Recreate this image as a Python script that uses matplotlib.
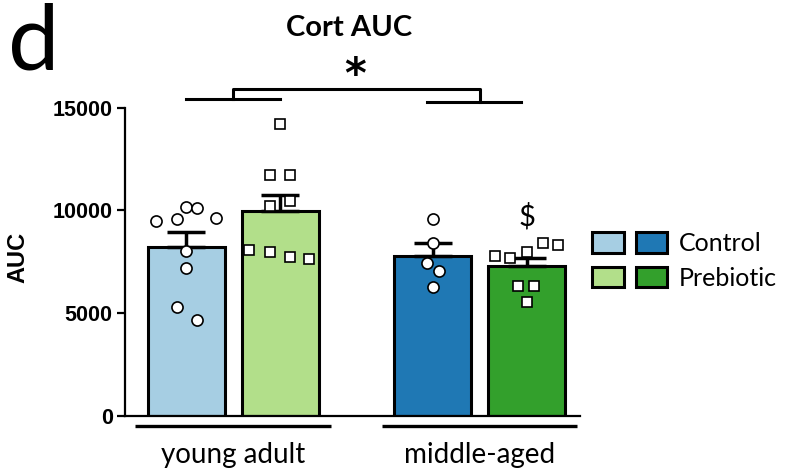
import matplotlib.pyplot as plt
import numpy as np
from matplotlib.patches import Patch
from matplotlib.legend_handler import HandlerTuple

# group / treatment names
groups = ["young adult", "middle-aged"]
treatments = ["Control", "Prebiotic"]

# bar heights (mean AUC) and SEM, order: YA-ctrl, YA-preb, MA-ctrl, MA-preb
means = [8230, 9970, 7760, 7290]
sems = [720, 800, 640, 390]

# individual animals
ya_ctrl = [9490, 9580, 10160, 10110, 9630, 8000, 7190, 5290, 4670]
ya_preb = [14220, 11730, 11730, 10220, 10470, 8050, 7950, 7730, 7630]
ma_ctrl = [9580, 8410, 7460, 7070, 6270]
ma_preb = [7790, 7680, 7970, 8410, 8330, 6300, 6300, 5520]
points = [ya_ctrl, ya_preb, ma_ctrl, ma_preb]

# horizontal spread of the dots inside each bar
spread = [
    [-0.32, -0.10, 0.0, 0.11, 0.32, 0.0, 0.0, -0.10, 0.11],
    [0.0, -0.11, 0.10, -0.11, 0.10, -0.33, -0.11, 0.10, 0.31],
    [0.0, 0.0, -0.06, 0.07, 0.0],
    [-0.34, -0.18, 0.0, 0.17, 0.33, -0.09, 0.08, 0.0],
]

colors = ["#a6cee3", "#b2df8a", "#1f78b4", "#33a02c"]
markers = ["o", "s", "o", "s"]

calibri_like = "Lato"
arial_like = "Liberation Sans"

fig = plt.figure(figsize=(7.97, 4.72), dpi=100)
ax = fig.add_axes([0.157, 0.119, 0.571, 0.653])

group_gap = 2.62
xpos = np.array([g * group_gap + t for g in range(len(groups)) for t in range(len(treatments))])

ax.bar(xpos, means, width=0.82, color=colors, edgecolor="black", linewidth=2.2, zorder=1)
for x, m, s in zip(xpos, means, sems):
    ax.errorbar(x, m, yerr=[[0], [s]], fmt="none", ecolor="black", elinewidth=2.5,
                capsize=14, capthick=2.5, zorder=2)
for x, vals, dx, mk in zip(xpos, points, spread, markers):
    ax.plot(x + np.array(dx), vals, linestyle="none", marker=mk,
            markersize=8 if mk == "o" else 7.5, markerfacecolor="white",
            markeredgecolor="black", markeredgewidth=1.2, zorder=3, clip_on=False)

ax.set_xlim(-0.65, 4.19)
ax.set_ylim(0, 15000)
ax.set_yticks([0, 5000, 10000, 15000])
for lab in ax.get_yticklabels():
    lab.set_fontfamily(arial_like)
    lab.set_fontweight("bold")
    lab.set_fontsize(15.5)
ax.tick_params(axis="y", length=6, width=1.6, pad=3)
ax.tick_params(axis="x", bottom=False, labelbottom=False)
for side in ["top", "right"]:
    ax.spines[side].set_visible(False)
for side in ["left", "bottom"]:
    ax.spines[side].set_linewidth(1.6)

ax.set_ylabel("AUC", fontfamily=arial_like, fontweight="bold", fontsize=17)
ax.yaxis.set_label_coords(-0.211, 0.513)

# group underlines and names
trans = ax.get_xaxis_transform()
for g, name in enumerate(groups):
    c = g * group_gap + 0.5
    ax.plot([c - 1.04, c + 1.04], [-0.032, -0.032], color="black", linewidth=2.4,
            transform=trans, clip_on=False, solid_capstyle="butt")
    ax.text(c, -0.127, name, transform=trans, ha="center", va="center",
            fontfamily=calibri_like, fontsize=20)

# age effect bracket
ax.plot([xpos[0], xpos[1]], [15420, 15420], color="black", linewidth=2.2, clip_on=False)
ax.plot([xpos[2] - 0.06, xpos[3] - 0.06], [15290, 15290], color="black", linewidth=2.2, clip_on=False)
ax.plot([0.5, 0.5, 3.12, 3.12], [15420, 15920, 15920, 15290], color="black",
        linewidth=2.2, clip_on=False)
ax.text(1.8, 16550, "*", ha="center", va="center", fontfamily="DejaVu Sans",
        fontweight="bold", fontsize=30)

ax.text(xpos[3], 9690, "$", ha="center", va="center", fontfamily=calibri_like, fontsize=21)

# legend: light/dark pairs for each treatment
handles = [
    (Patch(facecolor=colors[0], edgecolor="black", linewidth=2.2),
     Patch(facecolor=colors[2], edgecolor="black", linewidth=2.2)),
    (Patch(facecolor=colors[1], edgecolor="black", linewidth=2.2),
     Patch(facecolor=colors[3], edgecolor="black", linewidth=2.2)),
]
fig.legend(handles, treatments, handler_map={tuple: HandlerTuple(ndivide=None, pad=0.48)},
           loc="center left", bbox_to_anchor=(0.743, 0.447), bbox_transform=fig.transFigure,
           frameon=False, borderpad=0, borderaxespad=0, handlelength=3.0, handleheight=0.9,
           handletextpad=0.45, labelspacing=0.45,
           prop={"family": calibri_like, "size": 18})

fig.text(0.438, 0.94, "Cort AUC", ha="center", va="center", fontfamily=calibri_like,
         fontweight="bold", fontsize=21)
fig.text(0.01, 0.852, "d", ha="left", va="baseline", fontfamily=calibri_like, fontsize=66)

fig.savefig("out.png", dpi=100)
